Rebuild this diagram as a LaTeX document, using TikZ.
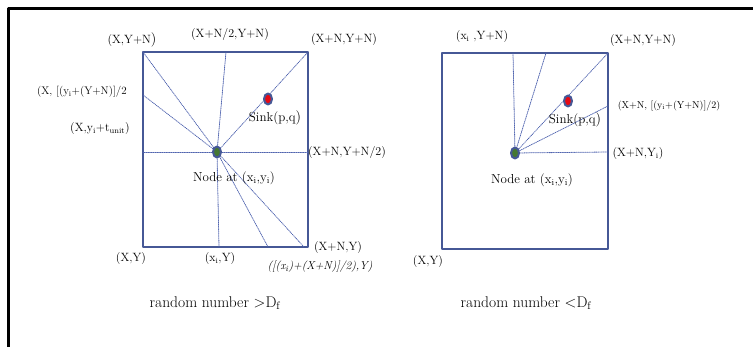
\documentclass[tikz,border=0pt]{standalone}
\usetikzlibrary{shapes.geometric}
\definecolor{boxblue}{RGB}{70,88,150}
\definecolor{raycol}{RGB}{80,100,175}
\definecolor{nodegreen}{RGB}{70,120,50}
\definecolor{sinkred}{RGB}{230,10,20}
\begin{document}
\begin{tikzpicture}[x=1pt, y=-1pt, line join=round, line cap=round,
	lbl/.style={inner sep=0pt, font=\fontsize{12}{14}\selectfont},
	smalllbl/.style={inner sep=0pt, font=\fontsize{11}{13}\selectfont},
	caption/.style={inner sep=0pt, font=\fontsize{15.5}{18}\selectfont},
	frame/.style={draw=boxblue, line width=2.8pt},
	ray/.style={draw=raycol, densely dotted, line width=.8pt},
	dot/.style={ellipse, draw=boxblue, line width=2pt, minimum width=8pt, minimum height=11pt, inner sep=0pt}]
	\useasboundingbox (0,0) rectangle (753,347);
	\draw[line width=3pt, line cap=butt] (8,347)--(8,9)--(753,9);
	% left box: random number > D_f
	\draw[frame] (143,52) rectangle (308,247);
	\coordinate (nL) at (217,152);
	\coordinate (sL) at (268,99);
	\foreach \p in {(143,52), (143,95), (143,152), (226,52), (308,52), (308,152), (219,247), (268,247), (304,247)}
		\draw[ray] (nL)--\p;
	\node[dot, fill=nodegreen] (nLdot) at (nL) {};
	\node[dot, fill=sinkred] (sLdot) at (sL) {};
	\node[lbl] at (132,40) {(X,Y+N{\Large)}};
	\node[lbl] at (230,35) {(X+N/2,Y+N)};
	\node[lbl] at (344,40) {(X+N,Y+N)};
	\node[smalllbl] at (82,92) {(X, [(y\textsubscript{i}+(Y+N)]/2};
	\node[smalllbl, font=\fontsize{12}{14}\selectfont] at (100,129) {(X,y\textsubscript{i}+t\textsubscript{unit})};
	\node[lbl] at (347,153) {(X+N,Y+N/2)};
	\node[lbl, font=\fontsize{13}{15}\selectfont] at (275,118) {Sink(p,q{\Large)}};
	\node[lbl, font=\fontsize{13}{15}\selectfont] at (234,178) {Node at (x\textsubscript{i},y\textsubscript{i})};
	\node[lbl] at (131,259) {(X,Y)};
	\node[lbl] at (220,259) {(x\textsubscript{i},Y)};
	\node[lbl] at (338,248) {(X+N,Y)};
	\node[lbl, font=\fontsize{11.5}{14}\selectfont\itshape] at (320,267) {([(x\textsubscript{i})+(X+N)]/2),Y)};
	\node[caption] at (215,303) {random number >D\textsubscript{f}};
	% right box: random number < D_f
	\draw[frame] (442,53) rectangle (608,249);
	\coordinate (nR) at (515,153);
	\coordinate (sR) at (568,101);
	\foreach \p in {(513,53), (546,53), (608,53), (608,106), (608,152)}
		\draw[ray] (nR)--\p;
	\node[dot, fill=nodegreen] (nRdot) at (nR) {};
	\node[dot, fill=sinkred] (sRdot) at (sR) {};
	\node[lbl] at (482,37) {(x\textsubscript{i} ,Y+N)};
	\node[lbl] at (643,41) {(X+N,Y+N)};
	\node[smalllbl, font=\fontsize{10}{12}\selectfont] at (669,106) {(X+N, [(y\textsubscript{i}+(Y+N)]/2)};
	\node[lbl, font=\fontsize{13}{15}\selectfont] at (575,120) {Sink(p,q{\Large)}};
	\node[lbl] at (638,154) {(X+N,Y\textsubscript{i})};
	\node[lbl, font=\fontsize{13}{15}\selectfont] at (532,180) {Node at (x\textsubscript{i},y\textsubscript{i})};
	\node[lbl] at (428,262) {(X,Y)};
	\node[caption] at (526,303) {random number <D\textsubscript{f}};
\end{tikzpicture}
\end{document}
